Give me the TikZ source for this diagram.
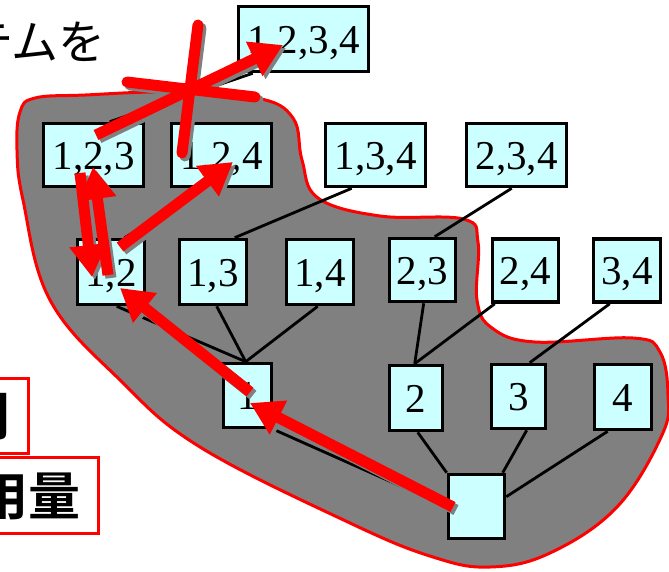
\documentclass[tikz,border=0pt]{standalone}
\usepackage{fontspec}
\setmainfont{Liberation Serif}
\newfontfamily\jpfont{Noto Sans CJK JP}[BoldFont={Noto Sans CJK JP Bold}]
\usetikzlibrary{arrows.meta,calc}

\definecolor{setfill}{HTML}{CCFFFF}
\definecolor{regiongray}{HTML}{808080}

\pgfdeclarelayer{back}
\pgfsetlayers{back,main}

\begin{document}
\begin{tikzpicture}[x=1pt,y=-1pt,
  setbox/.style={draw=black, line width=3.6pt, fill=setfill, inner sep=0pt,
    text height=28pt, text depth=0pt, font=\fontsize{41}{41}\selectfont},
  lattice/.style={draw=black, line width=2.8pt},
  region/.style={draw=red, line width=3pt, fill=regiongray},
  labelbox/.style={draw=red, line width=3.5pt, fill=white, inner ysep=0pt, inner xsep=18pt,
    font=\jpfont\bfseries\fontsize{52}{52}\selectfont},
  searcharrow/.style={draw=red, line width=11pt, -{Triangle[length=32pt,width=36pt]}},
  searchshadow/.style={searcharrow, draw=regiongray},
  cutmark/.style={draw=red, line width=11pt, line cap=round},
  cutshadow/.style={cutmark, draw=regiongray}]

\useasboundingbox (0,0) rectangle (669,571);
\clip (0,0) rectangle (669,571);

% heading and resource labels
\node[font=\jpfont\fontsize{47}{47}\selectfont, anchor=east, inner sep=0pt] (title) at (106,42) {テムを};
\node[labelbox, anchor=east, minimum height=75pt] (lbtime) at (30,416) {時間};
\node[labelbox, anchor=east, minimum height=76pt] (lbmem) at (100,495.5) {使用量};

% itemset nodes
\node[setbox, minimum width=130pt, minimum height=65pt] (n1234) at (303.5,39) {1,2,3,4};

\node[setbox, minimum width=100pt, minimum height=63pt] (n123) at (93.5,155) {1,2,3};
\node[setbox, minimum width=100pt, minimum height=63pt] (n124) at (221.5,155) {1,2,4};
\node[setbox, minimum width=100pt, minimum height=63pt] (n134) at (375.5,155) {1,3,4};
\node[setbox, minimum width=100pt, minimum height=63pt] (n234) at (516.5,155) {2,3,4};

\node[setbox, minimum width=67pt, minimum height=65pt] (n12) at (111,272) {1,2};
\node[setbox, minimum width=67pt, minimum height=65pt] (n13) at (213,272) {1,3};
\node[setbox, minimum width=67pt, minimum height=65pt] (n14) at (320,272) {1,4};
\node[setbox, minimum width=66pt, minimum height=63pt] (n23) at (422.5,270) {2,3};
\node[setbox, minimum width=66pt, minimum height=63pt] (n24) at (525.5,270.5) {2,4};
\node[setbox, minimum width=67pt, minimum height=63pt] (n34) at (627,270.5) {3,4};

\node[setbox, minimum width=48pt, minimum height=64pt] (n1) at (247.5,395.5) {1};
\node[setbox, minimum width=53pt, minimum height=65pt] (n2) at (416,398) {2};
\node[setbox, minimum width=54pt, minimum height=64pt] (n3) at (518.5,396.5) {3};
\node[setbox, minimum width=57pt, minimum height=65pt] (n4) at (623,397) {4};

\node[setbox, minimum width=56pt, minimum height=64pt] (n0) at (476.5,506.5) {};

\begin{pgfonlayer}{back}
% explored part of the lattice
\draw[region] plot[smooth cycle, tension=0.65] coordinates {
  (20,112) (35,98) (85,95) (170,92) (257,98) (293,118) (302,160) (318,198)
  (380,216) (463,219) (478,242) (477,300) (492,328) (535,342) (633,338)
  (660,352) (668,395) (662,435) (617,507) (550,553) (490,567) (433,557)
  (350,523) (200,447) (120,380) (50,300) (23,200) (17,150)};

% lattice edges
\draw[lattice] ([xshift=28pt]n134.south west) -- ([xshift=57pt]n13.north west);
\draw[lattice] ([xshift=47pt]n234.south west) -- ([xshift=47pt]n23.north west);
\draw[lattice] ([xshift=33pt]n14.south west) -- ([xshift=24pt]n1.north west);
\draw[lattice] ([xshift=39pt]n13.south west) -- ([xshift=24pt]n1.north west);
\draw[lattice] ([xshift=41pt]n12.south west) -- ([xshift=24pt]n1.north west);
\draw[lattice] (n1.south east) -- (n0.west);
\draw[lattice] ([xshift=36pt]n23.south west) -- ([xshift=27pt]n2.north west);
\draw[lattice] ([xshift=4pt]n24.south west) -- ([xshift=27pt]n2.north west);
\draw[lattice] ([xshift=18pt]n34.south west) -- ([xshift=40pt]n3.north west);
\draw[lattice] ([xshift=30pt]n2.south west) -- (n0.north west);
\draw[lattice] ([xshift=37pt]n3.south west) -- ([xshift=56pt]n0.north west);
\draw[lattice] ([xshift=15pt]n4.south west) -- ([yshift=-24pt]n0.north east);
\draw[lattice] ([xshift=49pt]n12.north west) -- ([xshift=35pt]n124.south west);
\draw[lattice] ([xshift=68pt]n123.north west) -- ([xshift=16pt]n1234.south west);
\end{pgfonlayer}

% search path end points
\coordinate (a1s) at ($(n0.center)+(-23.5,0.5)$);
\coordinate (a1t) at ($(n1.center)+(2.5,7.5)$);
\coordinate (a2s) at ($(n1.center)+(2.5,-3.5)$);
\coordinate (a2t) at ($(n12.center)+(9,16)$);
\coordinate (a3s) at ($(n12.center)+(9,-25)$);
\coordinate (a3t) at ($(n124.center)+(11.5,7)$);
\coordinate (a4s) at ($(n123.center)+(-13.5,18)$);
\coordinate (a4t) at ($(n12.center)+(-19,5)$);
\coordinate (a5s) at ($(n12.center)+(-3,3)$);
\coordinate (a5t) at ($(n123.center)+(-0.5,12)$);
\coordinate (a6s) at ($(n123.center)+(2.5,-20)$);
\coordinate (a6t) at ($(n1234.center)+(-20.5,6)$);
\coordinate (x1a) at (198,25);
\coordinate (x1b) at (182,153);
\coordinate (x2a) at (127,82);
\coordinate (x2b) at (255,97);

% shadows
\foreach \s/\t in {a1s/a1t, a2s/a2t, a3s/a3t, a4s/a4t, a5s/a5t, a6s/a6t}
  \draw[searchshadow] ([shift={(3,3)}]\s) -- ([shift={(3,3)}]\t);
\draw[cutshadow] ([shift={(3,3)}]x1a) -- ([shift={(3,3)}]x1b);
\draw[cutshadow] ([shift={(3,3)}]x2a) -- ([shift={(3,3)}]x2b);

% search steps
\foreach \s/\t in {a1s/a1t, a2s/a2t, a3s/a3t, a4s/a4t, a5s/a5t, a6s/a6t}
  \draw[searcharrow] (\s) -- (\t);
\draw[cutmark] (x1a) -- (x1b);
\draw[cutmark] (x2a) -- (x2b);

\end{tikzpicture}
\end{document}
